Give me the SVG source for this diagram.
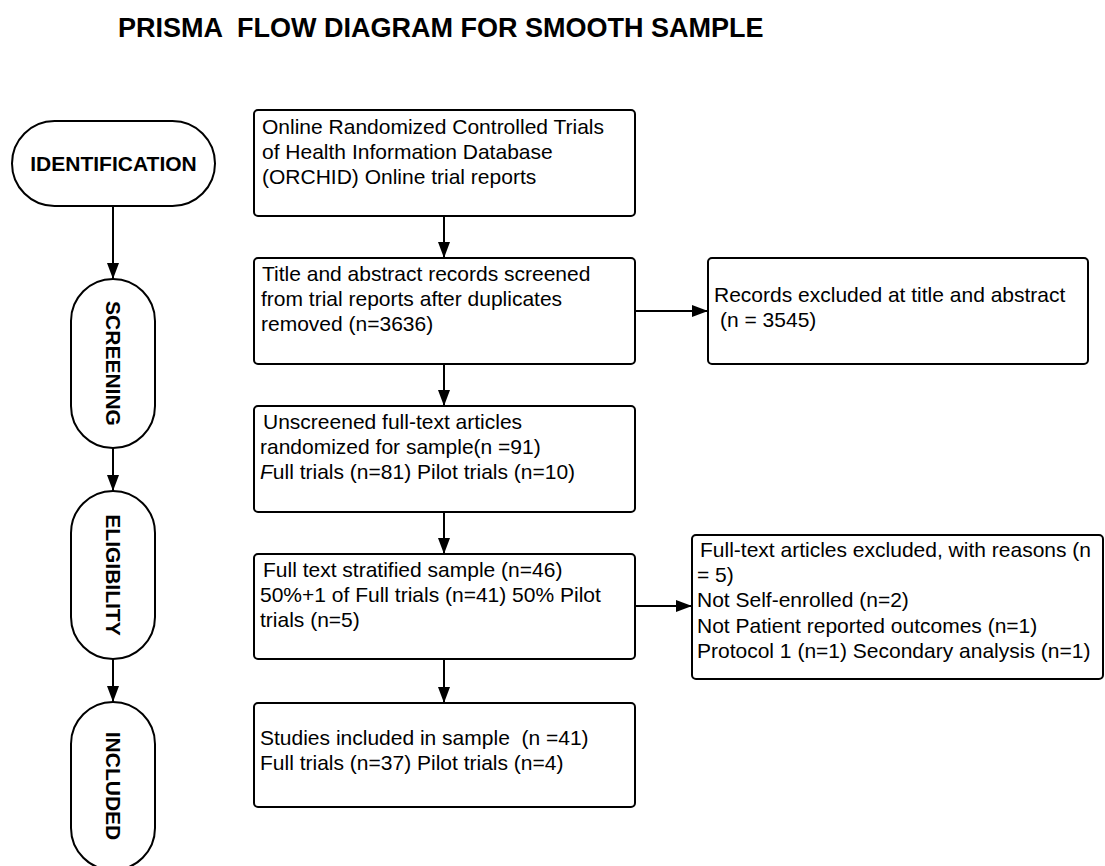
<svg xmlns="http://www.w3.org/2000/svg" width="1105" height="866" viewBox="0 0 1105 866">
<defs>
<style>
.box{fill:#fff;stroke:#000;stroke-width:2}
.stadium{fill:#fff;stroke:#000;stroke-width:2}
.t{font-family:"Liberation Sans",Arial,sans-serif;font-size:21px;fill:#000}
.st{font-family:"Liberation Sans",Arial,sans-serif;font-size:21px;font-weight:bold;fill:#000}
.title{font-family:"Liberation Sans",Arial,sans-serif;font-size:27px;font-weight:bold;fill:#000}
.c{stroke:#000;stroke-width:2;fill:none;marker-end:url(#ah)}
</style>
<marker id="ah" markerUnits="userSpaceOnUse" markerWidth="16" markerHeight="12" viewBox="0 0 16 12" refX="16" refY="6" orient="auto">
<path d="M0,0 L16,6 L0,12 z" fill="#000"/>
</marker>
</defs>
<rect width="1105" height="866" fill="#fff"/>
<text class="title" x="118" y="37" xml:space="preserve">PRISMA  FLOW DIAGRAM FOR SMOOTH SAMPLE</text>

<g id="connectors">
<line class="c" x1="113" y1="206" x2="113" y2="279"/>
<line class="c" x1="113" y1="448" x2="113" y2="491"/>
<line class="c" x1="113" y1="659" x2="113" y2="702"/>
<line class="c" x1="444" y1="216" x2="444" y2="258"/>
<line class="c" x1="444" y1="364" x2="444" y2="406"/>
<line class="c" x1="444" y1="512" x2="444" y2="554"/>
<line class="c" x1="444" y1="659" x2="444" y2="703"/>
<line class="c" x1="635" y1="311" x2="708" y2="311"/>
<line class="c" x1="635" y1="606" x2="692" y2="606"/>
</g>

<g id="stage-identification">
<rect class="stadium" x="12" y="121" width="203" height="85" rx="42.5"/>
<text class="st" x="113.5" y="171" text-anchor="middle">IDENTIFICATION</text>
</g>
<g id="stage-screening">
<rect class="stadium" x="71" y="279" width="84" height="169" rx="42"/>
<text class="st" transform="translate(113,363.5) rotate(90)" x="0" y="7.5" text-anchor="middle">SCREENING</text>
</g>
<g id="stage-eligibility">
<rect class="stadium" x="71" y="491" width="84" height="168" rx="42"/>
<text class="st" transform="translate(113,575) rotate(90)" x="0" y="7.5" text-anchor="middle">ELIGIBILITY</text>
</g>
<g id="stage-included">
<rect class="stadium" x="71" y="702" width="84" height="168" rx="42"/>
<text class="st" transform="translate(113,786) rotate(90)" x="0" y="7.5" text-anchor="middle">INCLUDED</text>
</g>

<g id="box-orchid">
<rect class="box" x="254" y="110" width="381" height="106" rx="4"/>
<text class="t" x="262" y="134">Online Randomized Controlled Trials</text>
<text class="t" x="262" y="159">of Health Information Database</text>
<text class="t" x="262" y="184">(ORCHID) Online trial reports</text>
</g>
<g id="box-screened">
<rect class="box" x="254" y="258" width="381" height="106" rx="4"/>
<text class="t" x="262" y="281">Title and abstract records screened</text>
<text class="t" x="261" y="306">from trial reports after duplicates</text>
<text class="t" x="261" y="331">removed (n=3636)</text>
</g>
<g id="box-excluded-title">
<rect class="box" x="708" y="258" width="380" height="106" rx="4"/>
<text class="t" x="714" y="302">Records excluded at title and abstract</text>
<text class="t" x="720" y="327">(n = 3545)</text>
</g>
<g id="box-unscreened">
<rect class="box" x="254" y="406" width="381" height="106" rx="4"/>
<text class="t" x="263" y="429">Unscreened full-text articles</text>
<text class="t" x="260" y="454">randomized for sample(n =91)</text>
<text class="t" x="260" y="479"><tspan font-style="italic">F</tspan>ull trials (n=81) Pilot trials (n=10)</text>
</g>
<g id="box-stratified">
<rect class="box" x="254" y="554" width="381" height="105" rx="4"/>
<text class="t" x="263" y="577">Full text stratified sample (n=46)</text>
<text class="t" x="260" y="602">50%+1 of Full trials (n=41) 50% Pilot</text>
<text class="t" x="260" y="627">trials (n=5)</text>
</g>
<g id="box-excluded-fulltext">
<rect class="box" x="692" y="535" width="411" height="144" rx="4"/>
<text class="t" x="700" y="557">Full-text articles excluded, with reasons (n</text>
<text class="t" x="697" y="582">= 5)</text>
<text class="t" x="697" y="607">Not Self-enrolled (n=2)</text>
<text class="t" x="697" y="633">Not Patient reported outcomes (n=1)</text>
<text class="t" x="697" y="658">Protocol 1 (n=1) Secondary analysis (n=1)</text>
</g>
<g id="box-included">
<rect class="box" x="254" y="703" width="381" height="104" rx="4"/>
<text class="t" x="260" y="745" xml:space="preserve">Studies included in sample  (n =41)</text>
<text class="t" x="260" y="770">Full trials (n=37) Pilot trials (n=4)</text>
</g>
</svg>
